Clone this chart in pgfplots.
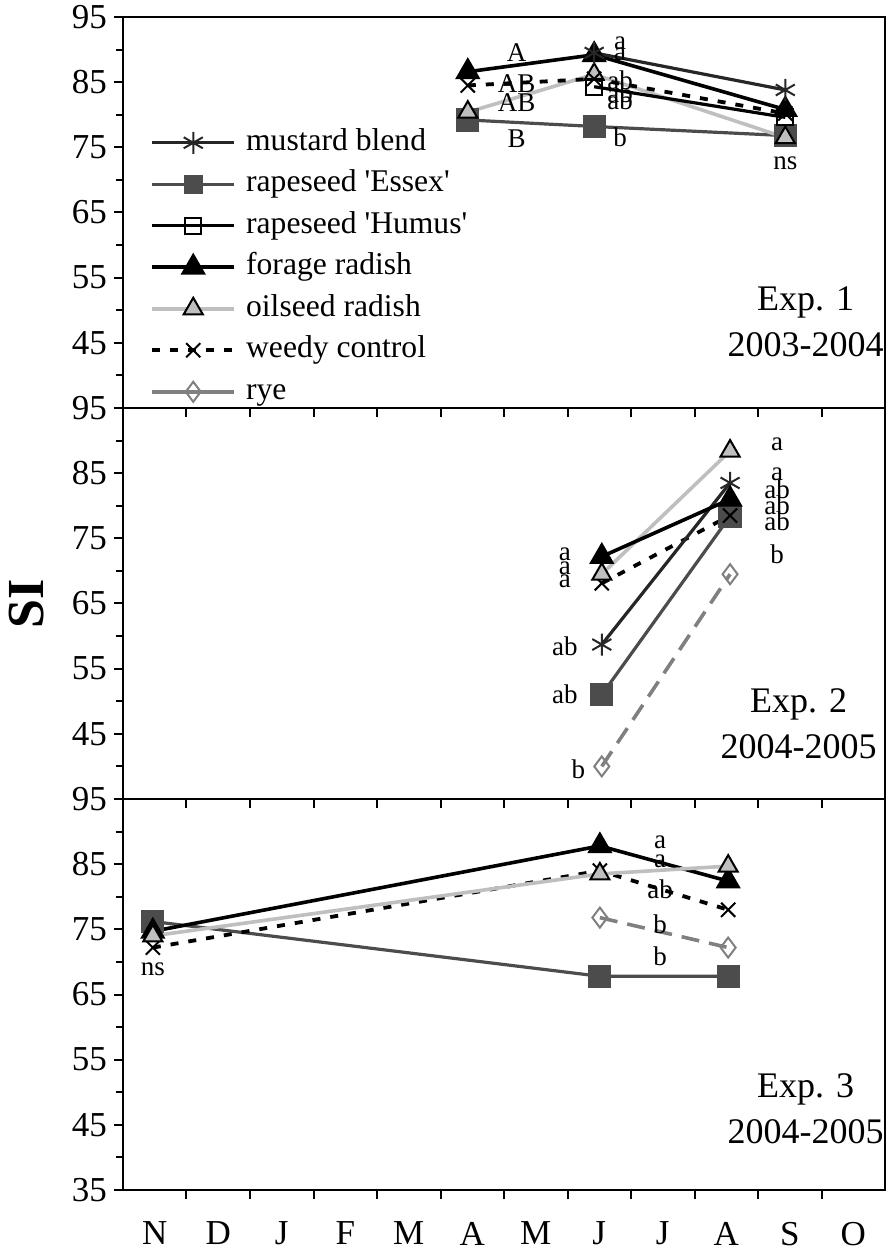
\documentclass[border=0pt]{standalone}
\usepackage{fontspec}
\setmainfont{Liberation Serif}
\usepackage{pgfplots}
\pgfplotsset{compat=1.18}
\pgfplotsset{
  panel/.style={scale only axis, width=381pt, height=195.5pt,
    xmin=0, xmax=12, ymin=35, ymax=95, clip=false,
    axis line style={line width=1.3pt},
    ytick={35,45,...,95}, minor ytick={40,50,...,90},
    xtick={1,...,11}, xticklabels={},
    xtick pos=bottom, ytick pos=left, tick align=outside,
    major tick length=4.5pt, minor tick length=3.5pt,
    every tick/.style={line width=1pt, black},
    yticklabel style={font=\fontsize{17.5}{18}\selectfont},
    /pgf/number format/assume math mode=true,
    legend image code/.code={\draw[mark repeat=2,mark phase=2,##1] plot coordinates {(0pt,0pt) (20.5pt,0pt) (41pt,0pt)};},
  },
  mustard/.style={color=black!85, line width=1.6pt, mark=asterisk, mark size=5.5pt, mark options={solid, line width=1pt}},
  essex/.style={color=black!70, line width=1.6pt, mark=square*, mark size=5pt, mark options={solid, fill=black!70}},
  essexleg/.style={color=black!70, line width=1.6pt, mark=square*, mark size=4pt, mark options={solid, fill=black!70}},
  humus/.style={color=black, line width=1.6pt, mark=square, mark size=4pt, mark options={solid, fill=white, line width=1pt}},
  forage/.style={color=black, line width=1.8pt, mark=triangle*, mark size=5.5pt, mark options={solid, fill=black}},
  oilseed/.style={color=black!25, line width=1.8pt, mark=triangle*, mark size=5.5pt, mark options={solid, fill=black!25, draw=black, line width=1pt}},
  weedy/.style={color=black, line width=1.9pt, dash pattern=on 4pt off 5pt, mark=x, mark size=5pt, mark options={solid, line width=1pt}},
  rye/.style={color=black!50, line width=1.8pt, dash pattern=on 9pt off 5pt, mark=diamond, mark size=5pt, mark options={solid, fill=white, line width=1pt}},
  ryeleg/.style={color=black!50, line width=1.8pt, mark=diamond, mark size=5pt, mark options={solid, fill=white, line width=1pt}},
}
\newcommand{\smlab}{\fontsize{13.5}{14}\selectfont}
\newcommand{\explab}{\fontsize{18}{23}\selectfont}
\begin{document}
\begin{tikzpicture}
% ---------------- Panel 1 ----------------
\begin{axis}[panel, at={(0pt,0pt)}, anchor=north west,
  yticklabels={,45,55,65,75,85,95},
  legend cell align=left,
  legend style={draw=none, fill=none, at={(axis cs:0.33,78.6)}, anchor=north west,
    font=\fontsize{15.8}{16}\selectfont, row sep=6.25pt, column sep=5pt,
    nodes={inner sep=0pt, text height=11pt, text depth=3.5pt}}]
\addlegendimage{mustard}\addlegendentry{mustard blend}
\addlegendimage{essexleg}\addlegendentry{rapeseed \textquotesingle Essex\textquotesingle}
\addlegendimage{humus}\addlegendentry{rapeseed \textquotesingle Humus\textquotesingle}
\addlegendimage{forage}\addlegendentry{forage radish}
\addlegendimage{oilseed}\addlegendentry{oilseed radish}
\addlegendimage{weedy}\addlegendentry{weedy control}
\addlegendimage{ryeleg}\addlegendentry{rye}
\addplot[essex, forget plot] coordinates {(5.43,79.2) (7.42,78.2) (10.43,76.8)};
\addplot[oilseed, forget plot] coordinates {(5.43,80.4) (7.42,86.2) (10.43,76.5)};
\addplot[weedy, forget plot] coordinates {(5.43,84.5) (7.42,85.5) (10.43,80.2)};
\addplot[humus, forget plot] coordinates {(7.42,84.3) (10.43,79.6)};
\addplot[forage, forget plot] coordinates {(5.43,86.6) (7.42,89.2) (10.43,80.8)};
\addplot[mustard, forget plot] coordinates {(7.42,89.5) (10.43,83.8)};
\begin{scope}[every node/.style={font=\smlab, inner sep=0pt}]
\node at (axis cs:6.2,89.5) {A};
\node at (axis cs:6.2,84.8) {AB};
\node at (axis cs:6.2,81.8) {AB};
\node at (axis cs:6.2,76.4) {B};
\node at (axis cs:7.83,91.0) {a};
\node at (axis cs:7.83,89.2) {a};
\node at (axis cs:7.83,85.3) {ab};
\node at (axis cs:7.83,83.3) {ab};
\node at (axis cs:7.83,82.2) {ab};
\node at (axis cs:7.83,76.5) {b};
\node at (axis cs:10.43,72.5) {ns};
\end{scope}
\node[font=\explab, align=center, inner sep=0pt] at (axis cs:10.75,48.2) {Exp. 1\\2003-2004};
\end{axis}
% ---------------- Panel 2 ----------------
\begin{axis}[panel, at={(0pt,-195.5pt)}, anchor=north west,
  yticklabels={,45,55,65,75,85,95}]
\addplot[rye] coordinates {(7.54,40.0) (9.56,69.5)};
\addplot[essex] coordinates {(7.54,51.0) (9.56,78.4)};
\addplot[weedy] coordinates {(7.54,68.1) (9.56,78.5)};
\addplot[mustard] coordinates {(7.54,58.7) (9.56,83.5)};
\addplot[oilseed] coordinates {(7.54,69.5) (9.56,88.4)};
\addplot[forage] coordinates {(7.54,72.2) (9.56,81.0)};
\begin{scope}[every node/.style={font=\smlab, inner sep=0pt}]
\node at (axis cs:6.96,72.5) {a};
\node at (axis cs:6.96,70.4) {a};
\node at (axis cs:6.96,68.4) {a};
\node at (axis cs:6.96,58.4) {ab};
\node at (axis cs:6.96,51.0) {ab};
\node at (axis cs:7.17,39.6) {b};
\node at (axis cs:10.3,89.5) {a};
\node at (axis cs:10.3,84.8) {a};
\node at (axis cs:10.3,82.5) {ab};
\node at (axis cs:10.3,80.0) {ab};
\node at (axis cs:10.3,77.6) {ab};
\node at (axis cs:10.3,72.5) {b};
\end{scope}
\node[font=\explab, align=center, inner sep=0pt] at (axis cs:10.64,46.5) {Exp. 2\\2004-2005};
\end{axis}
% ---------------- Panel 3 ----------------
\begin{axis}[panel, at={(0pt,-391pt)}, anchor=north west,
  extra x ticks={0.5,1.5,...,11.5},
  extra x tick labels={N,D,J,F,M,A,M,J,J,A,S,O},
  extra x tick style={every tick/.style={draw=none},
    xticklabel style={font=\fontsize{17.5}{18}\selectfont, yshift=-8pt}}]
\addplot[rye] coordinates {(7.51,76.8) (9.53,72.2)};
\addplot[essex] coordinates {(0.47,76.2) (7.51,67.8) (9.53,67.8)};
\addplot[weedy] coordinates {(0.47,72.2) (7.51,84.0) (9.53,78.0)};
\addplot[forage] coordinates {(0.47,74.7) (7.51,87.8) (9.53,82.4)};
\addplot[oilseed] coordinates {(0.47,74.0) (7.51,83.5) (9.53,84.7)};
\begin{scope}[every node/.style={font=\smlab, inner sep=0pt}]
\node at (axis cs:8.46,88.4) {a};
\node at (axis cs:8.46,85.5) {a};
\node at (axis cs:8.46,81.2) {ab};
\node at (axis cs:8.46,75.8) {b};
\node at (axis cs:8.46,70.8) {b};
\node at (axis cs:0.47,68.8) {ns};
\end{scope}
\node[font=\explab, align=center, inner sep=0pt] at (axis cs:10.75,47.5) {Exp. 3\\2004-2005};
\end{axis}
\node[rotate=90, font=\fontsize{26}{26}\selectfont\bfseries] at (-48pt,-293.25pt) {SI};
\pgfresetboundingbox
\path (-61.5pt,8.5pt) rectangle (382.5pt,-620pt);
\end{tikzpicture}
\end{document}
